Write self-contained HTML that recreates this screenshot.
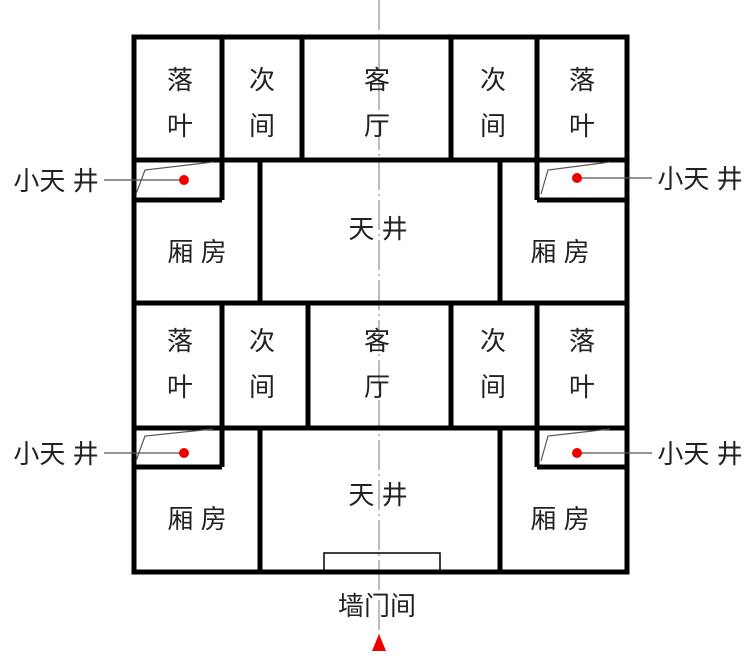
<!DOCTYPE html>
<html><head><meta charset="utf-8"><style>
html,body{margin:0;padding:0;background:#fff;}
svg{display:block;}
text{font-family:"Liberation Sans","Noto Sans CJK SC",sans-serif;font-size:26px;fill:#222;text-anchor:middle;}
</style></head><body>
<svg width="750" height="659" viewBox="0 0 750 659" xmlns="http://www.w3.org/2000/svg">
<line x1="379" y1="0" x2="379" y2="640" stroke="#777" stroke-width="1" stroke-dasharray="30,4,2,4"/>
<g stroke="#000" stroke-width="5" fill="none">
<rect x="134" y="37" width="493" height="535"/>
<line x1="134" y1="160" x2="627" y2="160"/>
<line x1="134" y1="303" x2="627" y2="303"/>
<line x1="134" y1="428" x2="627" y2="428"/>
<line x1="222" y1="37" x2="222" y2="200"/>
<line x1="302" y1="37" x2="302" y2="160"/>
<line x1="451" y1="37" x2="451" y2="160"/>
<line x1="537" y1="37" x2="537" y2="200"/>
<line x1="134" y1="200" x2="222" y2="200"/>
<line x1="537" y1="200" x2="627" y2="200"/>
<line x1="260" y1="160" x2="260" y2="303"/>
<line x1="500" y1="160" x2="500" y2="303"/>
<line x1="222" y1="303" x2="222" y2="467"/>
<line x1="308" y1="303" x2="308" y2="428"/>
<line x1="451" y1="303" x2="451" y2="428"/>
<line x1="537" y1="303" x2="537" y2="467"/>
<line x1="134" y1="467" x2="222" y2="467"/>
<line x1="537" y1="467" x2="627" y2="467"/>
<line x1="260" y1="428" x2="260" y2="572"/>
<line x1="500" y1="428" x2="500" y2="572"/>
</g>
<rect x="324" y="553" width="116" height="18" fill="none" stroke="#000" stroke-width="1.5"/>
<g stroke="#555" stroke-width="1.2" fill="none">
<polyline points="136,194 145,170 213,162"/>
<polyline points="541,194 548,170 610,162"/>
<polyline points="136,461 145,436 213,429"/>
<polyline points="541,461 548,436 610,429"/>
<line x1="104" y1="180" x2="184" y2="180"/>
<line x1="577" y1="178" x2="652" y2="178"/>
<line x1="104" y1="453" x2="184" y2="453"/>
<line x1="577" y1="453" x2="652" y2="453"/>
</g>
<g fill="#e00">
<circle cx="184" cy="180" r="5"/><circle cx="577" cy="178" r="5"/>
<circle cx="184" cy="453" r="5"/><circle cx="577" cy="453" r="5"/>
<polygon points="379,634 372,651 386,651"/>
</g>
<text x="180" y="89">落</text><text x="180" y="135">叶</text>
<text x="262" y="89">次</text><text x="262" y="135">间</text>
<text x="377" y="89">客</text><text x="377" y="135">厅</text>
<text x="493" y="89">次</text><text x="493" y="135">间</text>
<text x="582" y="89">落</text><text x="582" y="135">叶</text>
<text x="197" y="261">厢 房</text><text x="560" y="261">厢 房</text>
<text x="378" y="238">天 井</text>
<text x="180" y="350">落</text><text x="180" y="396">叶</text>
<text x="262" y="350">次</text><text x="262" y="396">间</text>
<text x="377" y="350">客</text><text x="377" y="396">厅</text>
<text x="493" y="350">次</text><text x="493" y="396">间</text>
<text x="582" y="350">落</text><text x="582" y="396">叶</text>
<text x="197" y="528">厢 房</text><text x="560" y="528">厢 房</text>
<text x="378" y="504">天 井</text>
<text x="377" y="615">墙门间</text>
<text x="56" y="190">小天 井</text><text x="700" y="188">小天 井</text>
<text x="56" y="463">小天 井</text><text x="700" y="463">小天 井</text>
</svg>
</body></html>
